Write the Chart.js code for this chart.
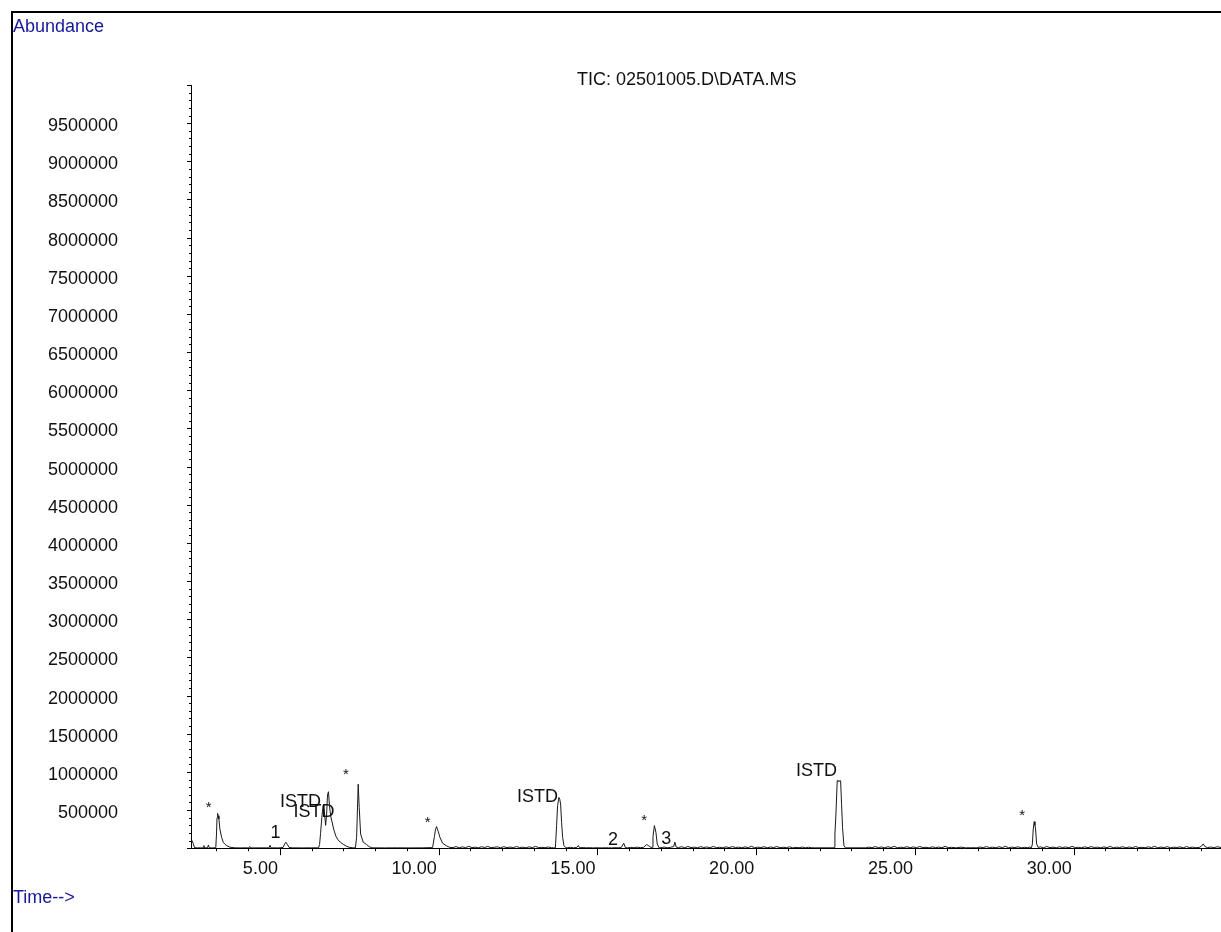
<!DOCTYPE html>
<html>
<head>
<meta charset="utf-8">
<title>TIC: 02501005.D\DATA.MS</title>
<script src="https://cdn.jsdelivr.net/npm/chart.js@4.4.1/dist/chart.umd.min.js"></script>
<style>
  html, body { margin: 0; padding: 0; background: #fff; }
  #page { position: relative; width: 1221px; height: 932px; overflow: hidden; font-family: "Liberation Sans", Arial, sans-serif; }
  #frame { position: absolute; left: 11px; top: 11px; width: 1300px; height: 1000px; border-left: 2px solid #000; border-top: 2px solid #000; }
  canvas { position: absolute; left: 0; top: 0; }
  .lbl { position: absolute; font-size: 18px; line-height: 1; white-space: nowrap; }
  #abund { left: 13px; top: 17px; color: #17179b; }
  #time { left: 13px; top: 888px; color: #17179b; }
  #title { left: 577px; top: 70px; color: #111; }
</style>
</head>
<body>
<div id="page">
  <div id="frame"></div>
  <canvas id="tic" width="1221" height="932"></canvas>
  <div class="lbl" id="abund">Abundance</div>
  <div class="lbl" id="title">TIC: 02501005.D\DATA.MS</div>
  <div class="lbl" id="time">Time--&gt;</div>
</div>
<script>
// retention time (min), abundance
const startTrace = [
  [2.20, 95000], [2.23, 100000], [2.27, 60000], [2.31, 8000], [2.40, 4000], [2.50, 6000], [2.58, 4000],
  [2.605, 35000], [2.63, 4000], [2.72, 5000], [2.748, 42000], [2.775, 6000], [2.85, 4000], [2.98, 5000],
  [3.00, 160000], [3.02, 400000], [3.038, 456000], [3.055, 425000], [3.079, 382000], [3.11, 251000],
  [3.164, 143000], [3.214, 78000], [3.27, 52000], [3.321, 35000], [3.425, 13000], [3.58, 5000],
  [3.75, 4000], [3.90, 5000], [4.02, 4000], [4.05, 22000], [4.08, 4000], [4.40, 5000], [4.66, 4000],
  [4.69, 38000], [4.72, 5000], [4.95, 4000], [5.10, 10000], [5.15, 55000], [5.19, 78000], [5.24, 45000],
  [5.29, 10000], [5.40, 5000], [5.70, 4000], [6.00, 5000], [6.22, 5000]
];

const istdPairTrace = [
  [6.25, 50000], [6.28, 190000], [6.32, 400000], [6.36, 560000], [6.40, 480000], [6.44, 300000],
  [6.47, 430000], [6.50, 700000], [6.53, 740000], [6.56, 560000], [6.60, 420000], [6.65, 330000],
  [6.70, 240000], [6.76, 160000], [6.83, 110000], [6.90, 80000], [7.00, 50000], [7.10, 25000],
  [7.20, 10000], [7.30, 5000]
];

const earlyPeaksTrace = [
  [7.378, 5000], [7.416, 143000], [7.466, 838000], [7.498, 534000], [7.542, 186000], [7.624, 78000],
  [7.731, 48000], [7.813, 20000], [7.90, 5000], [8.30, 4000], [8.70, 5000], [9.10, 4000], [9.50, 5000],
  [9.809, 8000], [9.866, 150000], [9.898, 240000], [9.935, 283000], [9.96, 250000], [9.986, 222000],
  [10.039, 143000], [10.124, 65000], [10.25, 30000], [10.354, 10000]
];

const midTrace = [
  [10.45, 9000], [10.55, 21000], [10.65, 6000], [10.75, 17000], [10.85, 8000], [10.95, 25000],
  [11.05, 7000], [11.15, 14000], [11.25, 5000], [11.35, 19000], [11.45, 9000], [11.55, 23000],
  [11.65, 6000], [11.75, 12000], [11.85, 18000], [11.95, 5000], [12.05, 20000], [12.15, 8000],
  [12.25, 15000], [12.35, 6000], [12.45, 22000], [12.55, 9000], [12.65, 13000], [12.75, 5000],
  [12.85, 18000], [12.95, 7000], [13.05, 24000], [13.15, 8000], [13.25, 11000], [13.35, 6000],
  [13.45, 16000], [13.55, 7000], [13.62, 5000],
  [13.677, 5000], [13.715, 300000], [13.746, 560000], [13.787, 665000], [13.815, 640000],
  [13.841, 577000], [13.872, 339000], [13.904, 143000], [13.945, 35000], [14.008, 5000],
  [14.05, 6000], [14.15, 12000], [14.25, 5000], [14.35, 9000], [14.40, 35000], [14.44, 6000],
  [14.55, 8000], [14.65, 5000], [14.75, 7000], [14.85, 4000], [14.95, 6000], [15.05, 5000],
  [15.15, 4000], [15.25, 6000], [15.35, 5000], [15.45, 4000], [15.55, 7000], [15.65, 5000],
  [15.75, 9000], [15.83, 65000], [15.88, 8000], [15.95, 5000], [16.05, 11000], [16.15, 6000],
  [16.25, 14000], [16.35, 7000], [16.45, 10000], [16.55, 48000], [16.62, 30000], [16.68, 12000],
  [16.73, 10000], [16.75, 150000], [16.795, 296000], [16.843, 208000], [16.884, 56000], [16.94, 5000],
  [17.00, 7000], [17.10, 15000], [17.20, 6000], [17.30, 12000], [17.40, 20000], [17.44, 78000],
  [17.48, 15000], [17.55, 8000], [17.65, 19000], [17.75, 6000], [17.85, 22000], [17.95, 8000],
  [18.05, 14000], [18.15, 5000], [18.25, 20000], [18.35, 9000], [18.45, 16000], [18.55, 6000],
  [18.65, 23000], [18.75, 8000], [18.85, 12000], [18.95, 5000], [19.05, 18000], [19.15, 7000],
  [19.25, 21000], [19.35, 9000], [19.45, 14000], [19.55, 5000], [19.65, 17000], [19.75, 8000],
  [19.85, 25000], [19.95, 6000], [20.05, 13000], [20.15, 9000], [20.25, 19000], [20.35, 5000],
  [20.45, 16000], [20.55, 8000], [20.65, 22000], [20.75, 6000], [20.85, 12000], [20.95, 7000],
  [21.05, 18000], [21.15, 5000], [21.25, 10000], [21.35, 6000], [21.45, 15000], [21.55, 5000],
  [21.65, 12000], [21.75, 6000], [21.85, 5000], [22.42, 5000]
];

const istd23Trace = [
  [22.458, 10000], [22.48, 186000], [22.512, 447000], [22.553, 882000], [22.575, 890000],
  [22.606, 870000], [22.638, 890000], [22.66, 882000], [22.69, 577000], [22.72, 274000],
  [22.764, 35000], [22.81, 5000], [23.45, 5000]
];

const lateTrace = [
  [23.55, 14000], [23.65, 6000], [23.75, 21000], [23.85, 8000], [23.95, 16000], [24.05, 5000],
  [24.15, 19000], [24.25, 9000], [24.35, 24000], [24.45, 6000], [24.55, 13000], [24.65, 8000],
  [24.75, 20000], [24.85, 5000], [24.95, 17000], [25.05, 7000], [25.15, 22000], [25.25, 9000],
  [25.35, 12000], [25.45, 5000], [25.55, 18000], [25.65, 7000], [25.75, 15000], [25.85, 6000],
  [25.95, 23000], [26.05, 8000], [26.15, 11000], [26.30, 5000], [26.45, 14000], [26.60, 5000],
  [26.75, 6000], [26.95, 5000], [27.05, 16000], [27.15, 7000], [27.25, 21000], [27.35, 9000],
  [27.45, 13000], [27.55, 5000], [27.65, 19000], [27.75, 8000], [27.85, 25000], [27.95, 6000],
  [28.05, 14000], [28.15, 8000], [28.25, 18000], [28.35, 5000], [28.45, 12000], [28.55, 7000],
  [28.62, 15000],
  [28.669, 5000], [28.70, 56000], [28.726, 251000], [28.757, 348000], [28.78, 300000],
  [28.80, 251000], [28.833, 56000], [28.88, 10000],
  [28.95, 18000], [29.05, 6000], [29.15, 22000], [29.25, 8000], [29.35, 14000], [29.45, 5000],
  [29.55, 19000], [29.65, 9000], [29.75, 16000], [29.85, 6000], [29.95, 24000], [30.05, 8000],
  [30.15, 12000], [30.25, 5000], [30.35, 18000], [30.45, 7000], [30.55, 21000], [30.65, 9000],
  [30.75, 13000], [30.85, 5000], [30.95, 17000], [31.05, 8000], [31.15, 23000], [31.25, 6000],
  [31.35, 14000], [31.45, 9000], [31.55, 19000], [31.65, 5000], [31.75, 16000], [31.85, 7000],
  [31.95, 22000], [32.05, 8000], [32.15, 12000], [32.25, 6000], [32.35, 18000], [32.45, 9000],
  [32.55, 24000], [32.65, 5000], [32.75, 15000], [32.85, 8000], [32.95, 20000], [33.05, 6000],
  [33.15, 13000], [33.25, 9000], [33.35, 17000], [33.45, 5000], [33.55, 21000], [33.65, 8000],
  [33.75, 14000], [33.85, 6000], [33.95, 10000], [34.02, 25000], [34.08, 56000], [34.14, 20000],
  [34.22, 8000], [34.32, 16000], [34.42, 6000], [34.52, 19000], [34.64, 9000]
];

// peak annotations: text, retention time, abundance level of text baseline
const peakLabelText = ['*', '1', 'ISTD', 'ISTD', '*', '*', 'ISTD', '2', '*', '3', 'ISTD', '*'];
const peakLabelTime = [2.76, 4.86, 5.65, 6.07, 7.08, 9.65, 13.11, 15.49, 16.47, 17.17, 21.90, 28.38];
const peakLabelLevel = [480000, 130000, 534000, 404000, 902000, 284000, 599000, 39000, 306000, 52000, 951000, 371000];

const timeMin = 2.2;
const timeMax = 34.64;
const abundMax = 10000000;

const trace = [].concat(startTrace, istdPairTrace, earlyPeaksTrace, midTrace, istd23Trace, lateTrace);
const fontFamily = '"Liberation Sans", Arial, sans-serif';

const tickMarks = {
  id: 'tickMarks',
  afterDraw(chart) {
    const { ctx, scales: { x, y } } = chart;
    ctx.save();
    ctx.strokeStyle = '#000';
    ctx.lineWidth = 1;
    ctx.beginPath();
    x.ticks.forEach(t => {
      const px = Math.round(x.getPixelForValue(t.value)) + 0.5;
      const len = t.value % 5 === 0 ? 7 : 3;
      ctx.moveTo(px, x.top);
      ctx.lineTo(px, x.top + len);
    });
    y.ticks.forEach(t => {
      const py = Math.round(y.getPixelForValue(t.value)) + 0.5;
      const len = t.value % 500000 === 0 ? 4 : 2;
      ctx.moveTo(y.right - len, py);
      ctx.lineTo(y.right, py);
    });
    ctx.stroke();
    ctx.restore();
  }
};

const peakLabels = {
  id: 'peakLabels',
  afterDatasetsDraw(chart) {
    const { ctx, scales: { x, y } } = chart;
    ctx.save();
    ctx.fillStyle = '#111';
    ctx.textAlign = 'center';
    ctx.textBaseline = 'alphabetic';
    peakLabelText.forEach((txt, i) => {
      ctx.font = (txt === '*' ? '15px ' : '18px ') + fontFamily;
      ctx.fillText(txt, x.getPixelForValue(peakLabelTime[i]), y.getPixelForValue(peakLabelLevel[i]));
    });
    ctx.restore();
  }
};

new Chart(document.getElementById('tic'), {
  type: 'line',
  data: {
    datasets: [{
      data: trace.map(p => ({ x: p[0], y: p[1] })),
      borderColor: '#1a1a1a',
      borderWidth: 1,
      pointRadius: 0,
      tension: 0
    }]
  },
  options: {
    responsive: false,
    animation: false,
    devicePixelRatio: 1,
    layout: { padding: { top: 85, left: 0, right: 0, bottom: 0 } },
    plugins: { legend: { display: false }, tooltip: { enabled: false }, title: { display: false } },
    scales: {
      x: {
        type: 'linear',
        min: timeMin,
        max: timeMax,
        afterFit: s => { s.height = 81; },
        grid: { display: false, drawTicks: false },
        border: { display: true, color: '#000', width: 1 },
        ticks: {
          stepSize: 1,
          includeBounds: false,
          autoSkip: false,
          maxRotation: 0,
          align: 'end',
          labelOffset: -2,
          padding: 10,
          color: '#111',
          font: { family: fontFamily, size: 18 },
          callback: v => (v % 5 === 0 ? v.toFixed(2) : '')
        }
      },
      y: {
        min: 0,
        max: abundMax,
        afterFit: s => { s.width = 191; },
        grid: { display: false, drawTicks: false },
        border: { display: true, color: '#000', width: 1 },
        ticks: {
          stepSize: 100000,
          autoSkip: false,
          padding: 73,
          labelOffset: 3,
          color: '#111',
          font: { family: fontFamily, size: 18 },
          callback: v => (v % 500000 === 0 && v > 0 && v < abundMax ? String(v) : '')
        }
      }
    }
  },
  plugins: [tickMarks, peakLabels]
});
</script>
</body>
</html>
